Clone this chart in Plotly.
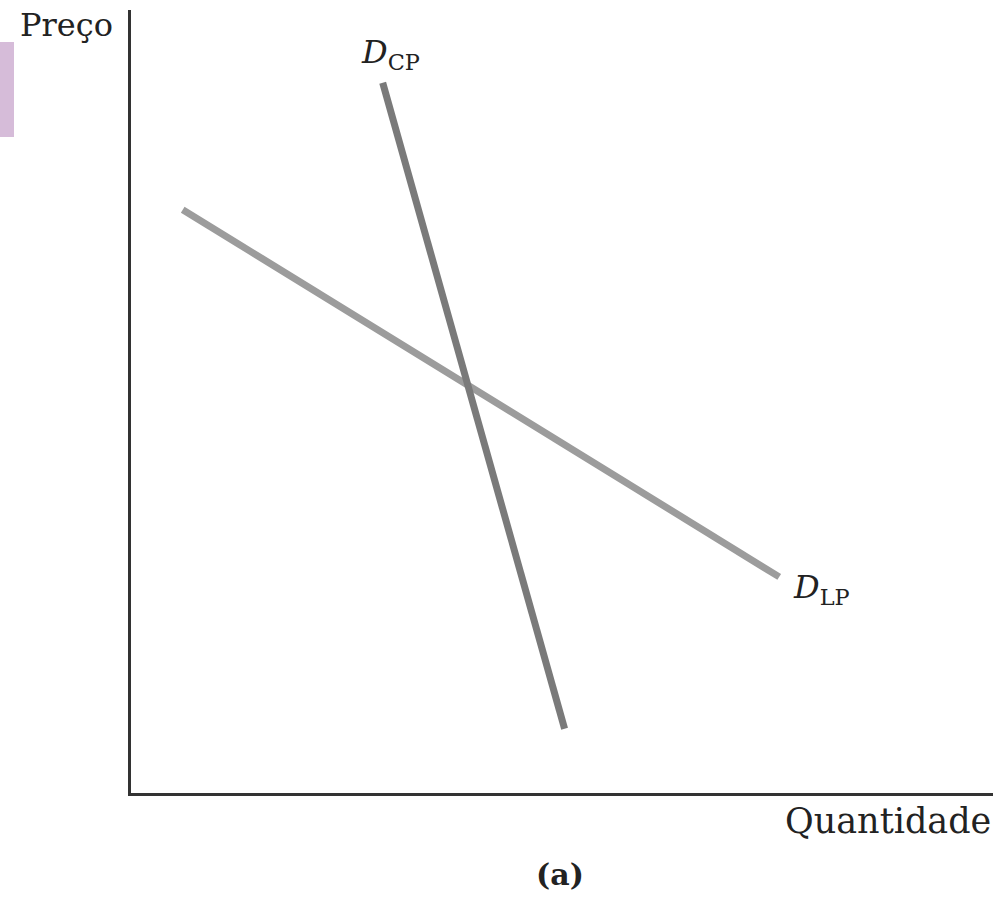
import plotly.graph_objects as go

# Short-run and long-run demand curves (endpoints in quantity/price units)
cp_quantity = [29.2, 50.3]
cp_price = [90.7, 8.2]
lp_quantity = [6.0, 75.2]
lp_price = [74.5, 27.6]

serif = "DejaVu Serif"

fig = go.Figure()
fig.add_trace(go.Scatter(x=lp_quantity, y=lp_price, mode="lines",
                         line=dict(color="#9c9c9c", width=7), hoverinfo="skip"))
fig.add_trace(go.Scatter(x=cp_quantity, y=cp_price, mode="lines",
                         line=dict(color="#7a7a7a", width=7), hoverinfo="skip"))

fig.add_annotation(x=cp_quantity[0], y=cp_price[0], xref="x", yref="y",
                   text="<i>D</i><sub>CP</sub>", showarrow=False,
                   xanchor="center", yanchor="bottom", xshift=8, yshift=6,
                   font=dict(family=serif, size=32, color="#222"))
fig.add_annotation(x=lp_quantity[1], y=lp_price[1], xref="x", yref="y",
                   text="<i>D</i><sub>LP</sub>", showarrow=False,
                   xanchor="left", yanchor="middle", xshift=12, yshift=-12,
                   font=dict(family=serif, size=32, color="#222"))

fig.add_annotation(x=0, y=1, xref="paper", yref="paper", text="Preço",
                   showarrow=False, xanchor="right", yanchor="top",
                   xshift=-16, yshift=6,
                   font=dict(family=serif, size=32, color="#222"))
fig.add_annotation(x=1, y=0, xref="paper", yref="paper", text="Quantidade",
                   showarrow=False, xanchor="right", yanchor="top",
                   yshift=-6,
                   font=dict(family=serif, size=35, color="#222"))
fig.add_annotation(x=0.498, y=0, xref="paper", yref="paper", text="<b>(a)</b>",
                   showarrow=False, xanchor="center", yanchor="top",
                   yshift=-62,
                   font=dict(family=serif, size=30, color="#222"))

# Tab marker on the left edge
fig.add_shape(type="rect", xref="paper", yref="paper",
              x0=-131 / 862, x1=-117 / 862, y0=(793 - 137) / 783, y1=(793 - 42) / 783,
              fillcolor="#d6bcd9", line_width=0, layer="below")

fig.update_xaxes(range=[0, 100], showline=True, linecolor="#333", linewidth=2.5,
                 showgrid=False, zeroline=False, showticklabels=False, ticks="")
fig.update_yaxes(range=[0, 100], showline=True, linecolor="#333", linewidth=2.5,
                 showgrid=False, zeroline=False, showticklabels=False, ticks="")

fig.update_layout(width=1005, height=912,
                  margin=dict(l=131, r=12, t=10, b=119),
                  paper_bgcolor="white", plot_bgcolor="white",
                  showlegend=False)

fig.write_html("out.html")
